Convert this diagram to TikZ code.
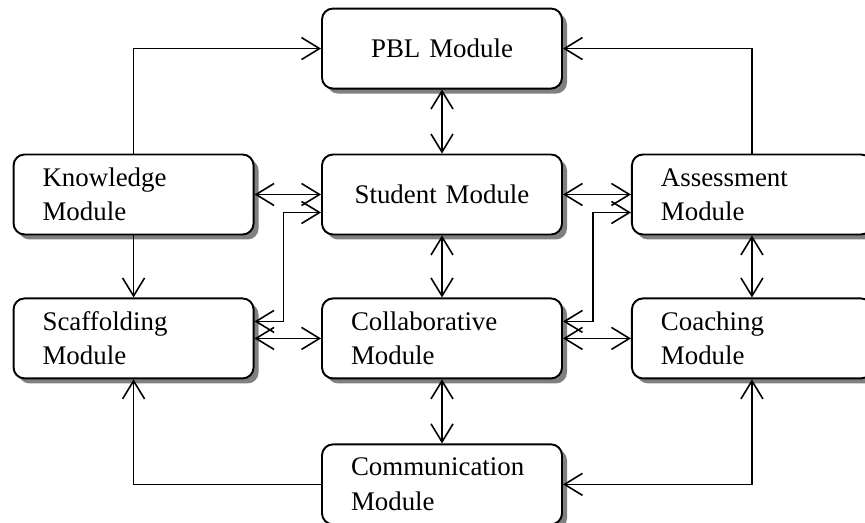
\documentclass[tikz,border=0pt]{standalone}
\usepackage{fontspec}
\setmainfont{Liberation Serif}
\usetikzlibrary{arrows.meta, positioning, shadows}

\begin{document}
\begin{tikzpicture}[
    >={Straight Barb[length=0.36cm, width=0.44cm]},
    modbox/.style={draw, line width=1.1pt, rounded corners=0.22cm, fill=white,
                   minimum width=4.8cm, minimum height=1.6cm,
                   text width=3.64cm, inner xsep=0.58cm, inner ysep=0.1cm,
                   align=left, font=\fontsize{15.3pt}{19.6pt}\selectfont,
                   drop shadow={shadow xshift=0.1cm, shadow yshift=-0.1cm,
                                fill=black!50, opacity=1}},
    link/.style={line width=0.9pt}
  ]
  \useasboundingbox (0,0) rectangle (17.3,10.46);

  % modules
  \node[modbox, align=center] (student) at (8.84,6.57) {Student Module};
  \node[modbox, align=center, above=1.28cm of student] (pbl) {PBL Module};
  \node[modbox, left=1.33cm of student] (know) {Knowledge\\Module};
  \node[modbox, right=1.36cm of student] (assess) {Assessment\\Module};
  \node[modbox, below=1.24cm of student] (collab) {Collaborative\\Module};
  \node[modbox, left=1.33cm of collab] (scaff) {Scaffolding\\Module};
  \node[modbox, right=1.36cm of collab] (coach) {Coaching\\Module};
  \node[modbox, below=1.28cm of collab] (comm) {Communication\\Module};

  % links
  \draw[link, ->] (know) |- (pbl);
  \draw[link, ->] (assess) |- (pbl);
  \draw[link, <->] (pbl) -- (student);
  \draw[link, ->] (know) -- (scaff);
  \draw[link, <->] (know) -- (student);
  \draw[link, <->] (student) -- (assess);
  \draw[link, <->] (student) -- (collab);
  \draw[link, <->] (assess) -- (coach);
  \draw[link, <->] (scaff) -- (collab);
  \draw[link, <->] (collab) -- (coach);
  \draw[link, <->] (collab) -- (comm);
  \draw[link, <->] ([yshift=0.34cm]scaff.east) -- ++(0.58,0)
    |- ([yshift=-0.36cm]student.west);
  \draw[link, <->] ([yshift=0.34cm]collab.east) -- ++(0.6,0)
    |- ([yshift=-0.36cm]assess.west);
  \draw[link, ->] (comm) -| (scaff);
  \draw[link, <->] (comm) -| (coach);
\end{tikzpicture}
\end{document}
